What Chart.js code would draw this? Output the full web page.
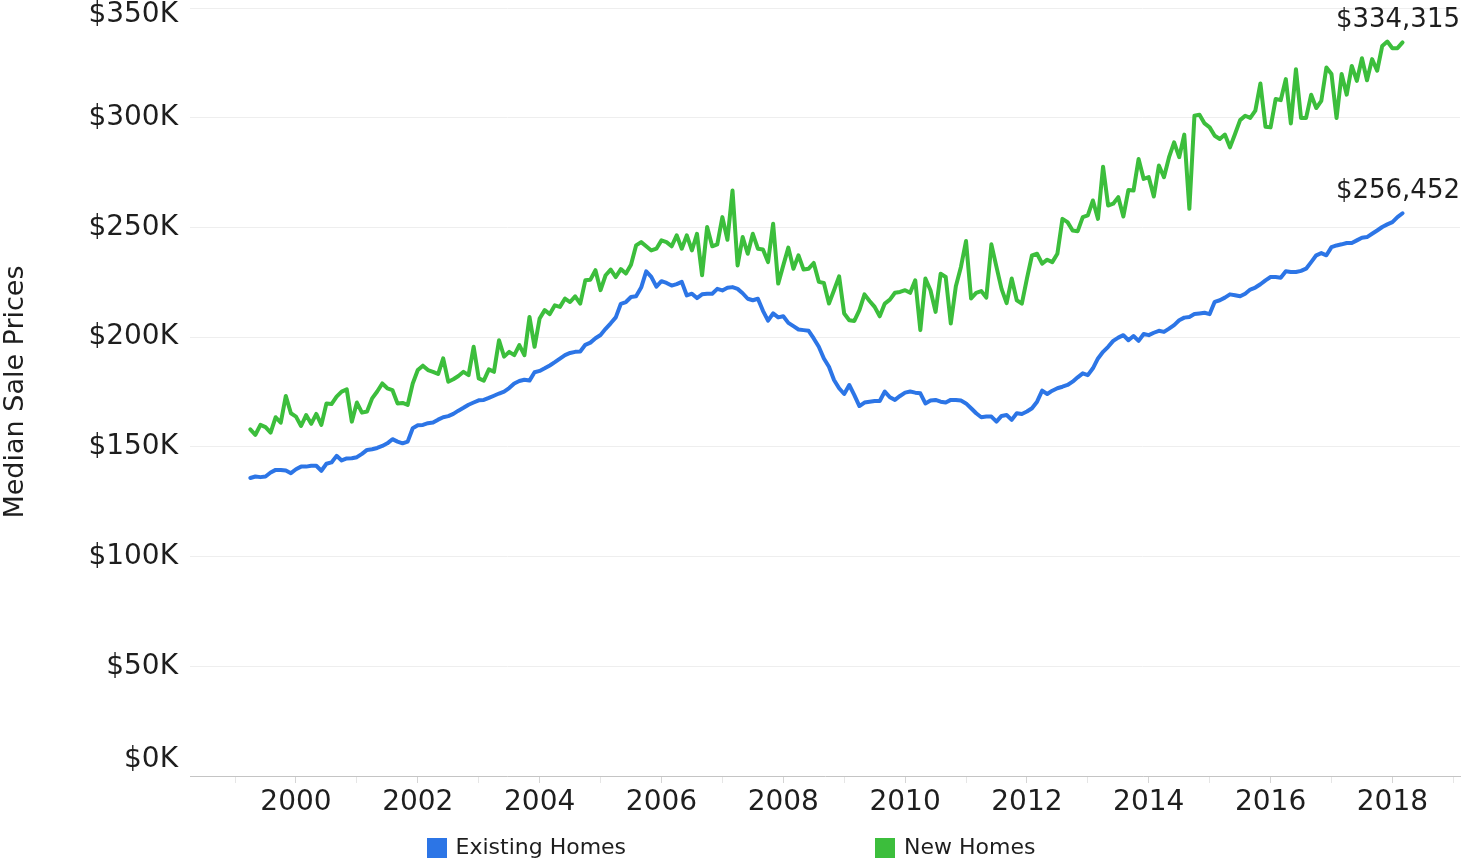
<!DOCTYPE html>
<html>
<head>
<meta charset="utf-8">
<title>Median Sale Prices</title>
<script src="https://cdn.jsdelivr.net/npm/chart.js@4.4.1/dist/chart.umd.min.js"></script>
<style>
  html, body { margin: 0; padding: 0; background: #fff; }
  #wrap { width: 1462px; height: 859px; position: relative; }
</style>
</head>
<body>
<div id="wrap"><canvas id="priceChart"></canvas></div>
<script>
// monthly median sale prices, April 1999 .. March 2018 (dollars)
const START_YEAR = 1999;
const START_MONTH = 4;

const existingHomes = [
  135800, 136500, 136200, 136500, 138300, 139500, 139500, 139200, 138000, 139800,
  141000, 141000, 141400, 141400, 139100, 142300, 142900, 145900, 143800, 144700,
  144800, 145300, 146800, 148600, 148900, 149500, 150400, 151600, 153500, 152400,
  151600, 152400, 158500, 159800, 160000, 160800, 161100, 162400, 163500, 164000,
  165000, 166500, 167800, 169200, 170200, 171200, 171400, 172300, 173300, 174300,
  175200, 176800, 178900, 180000, 180600, 180200, 184000, 184600, 185800, 187100,
  188600, 190200, 191800, 192800, 193300, 193500, 196500, 197500, 199500, 201000,
  203800, 206300, 209000, 215200, 216000, 218300, 218600, 222600, 230000, 227500,
  223000, 225500, 224700, 223500, 224200, 225200, 219000, 219800, 217800, 219500,
  219800, 219800, 222000, 221300, 222500, 222800, 222000, 220000, 217500, 216800,
  217500, 212000, 207500, 210800, 209000, 209500, 206500, 205000, 203500, 203200,
  202900, 199400, 195600, 190300, 186500, 180500, 176700, 174100, 178200, 173600,
  168600, 170200, 170600, 170900, 170900, 175200, 172600, 171400, 173200, 174700,
  175200, 174700, 174400, 169800, 171100, 171400, 170600, 170200, 171400, 171400,
  171100, 169800, 167600, 165300, 163500, 163800, 163800, 161500, 164100, 164500,
  162300, 165300, 165000, 166100, 167600, 170600, 175600, 174100, 175600, 176700,
  177400, 178200, 179700, 181700, 183500, 182700, 185800, 190300, 193300, 195600,
  198300, 199800, 200900, 198600, 200500, 198300, 201400, 200900, 202000, 202900,
  202400, 203900, 205500, 207700, 208900, 209200, 210500, 210800, 211100, 210500,
  216100, 216800, 218000, 219500, 219100, 218600, 219800, 221700, 222600, 224100,
  225900, 227400, 227400, 227100, 230000, 229700, 229700, 230200, 231200, 234200,
  237300, 238300, 237300, 241000, 241800, 242300, 242900, 242900, 244100, 245300,
  245600, 247100, 248600, 250200, 251400, 252400, 254700, 256452
];

const newHomes = [
  158000, 155500, 160000, 159000, 156500, 163500, 161000, 173200, 165300, 163800,
  159500, 164500, 160500, 165000, 160000, 169800, 169500, 172900, 175200, 176200,
  161500, 170200, 165600, 166100, 172100, 175200, 178900, 176700, 175900, 169800,
  170000, 169100, 178900, 185000, 187000, 185000, 184200, 183200, 190300, 179700,
  180800, 182300, 184200, 182700, 195600, 181200, 180200, 185300, 184200, 198600,
  191100, 193300, 191800, 196400, 191800, 209200, 195600, 208500, 212300, 210500,
  214500, 213800, 217600, 216000, 218600, 215300, 225900, 226200, 230500, 221400,
  228200, 230800, 227400, 231000, 229000, 233000, 241800, 243300, 241400, 239500,
  240300, 244100, 243300, 241400, 246400, 240300, 246400, 239500, 247100, 228200,
  250200, 241400, 242300, 254700, 244400, 266800, 232700, 245600, 238000, 247100,
  240300, 239900, 234200, 251700, 224400, 232700, 240800, 231200, 237300, 230800,
  231200, 233800, 225200, 224700, 215300, 221400, 227700, 210800, 207700, 207400,
  212300, 219500, 216500, 213800, 209500, 215300, 217100, 220200, 220600, 221400,
  220200, 225900, 203200, 226700, 221400, 211500, 228900, 227400, 206200, 223200,
  232000, 243800, 217600, 220200, 221000, 218000, 242300, 232000, 222000, 215500,
  226700, 216800, 215300, 226700, 237300, 238000, 233500, 235300, 234200, 238000,
  253900, 252400, 248600, 248300, 254700, 255500, 262300, 253900, 277700, 260000,
  260800, 263800, 255000, 267100, 266800, 281200, 272100, 272900, 264100, 278200,
  272900, 282000, 288800, 282000, 292300, 258500, 300900, 301400, 297400, 295600,
  291800, 290300, 292300, 286500, 292600, 298900, 300900, 299900, 303200, 315600,
  295900, 295600, 308500, 308000, 317600, 297400, 322100, 299900, 299900, 310500,
  304400, 307700, 322900, 319900, 299900, 319900, 310500, 323600, 316800, 327100,
  317100, 326700, 321400, 332700, 334700, 331700, 331700, 334315
];

const seriesNames = ['Existing Homes', 'New Homes'];
const seriesColors = ['#2c75e6', '#3cbe3c'];
const yTickStep = 50000;
const yMax = 350000;
const labeledYears = [2000, 2002, 2004, 2006, 2008, 2010, 2012, 2014, 2016, 2018];

const FONT = "'DejaVu Sans', sans-serif";
const TEXT = '#1e1e1e';

// 'YYYY-MM' for every month in the series
const months = existingHomes.map((_, i) => {
  const m = START_MONTH - 1 + i;
  const yr = START_YEAR + Math.floor(m / 12);
  return yr + '-' + String(m % 12 + 1).padStart(2, '0');
});

function monthToYear(label) {
  const [yr, mo] = label.split('-').map(Number);
  return yr + (mo - 1) / 12;
}

function toPoints(values) {
  return values.map((v, i) => ({ x: monthToYear(months[i]), y: v }));
}

function formatK(v) {
  return '$' + (v / 1000) + 'K';
}

// y tick labels, end-of-line values and the legend are painted here
const chartText = {
  id: 'chartText',
  afterDraw(chart) {
    const { ctx, chartArea, scales: { y } } = chart;
    ctx.save();
    ctx.fillStyle = TEXT;
    ctx.textBaseline = 'middle';

    ctx.font = '28px ' + FONT;
    ctx.textAlign = 'right';
    y.ticks.forEach(t => {
      let py = y.getPixelForValue(t.value);
      py = Math.min(Math.max(py, 15), chartArea.bottom - 16);
      ctx.fillText(formatK(t.value), chartArea.left - 12, py);
    });

    ctx.font = '26px ' + FONT;
    chart.data.datasets.forEach(ds => {
      const last = ds.data[ds.data.length - 1];
      const py = y.getPixelForValue(last.y);
      ctx.fillText('$' + last.y.toLocaleString('en-US'), chartArea.right, py - 22);
    });

    // legend: two swatches centred under the plot
    ctx.font = '22px ' + FONT;
    ctx.textAlign = 'left';
    const box = 20, textGap = 9, itemGap = 249;
    const widths = seriesNames.map(n => box + textGap + ctx.measureText(n).width);
    const total = widths[0] + itemGap + widths[1];
    let lx = (chart.width - total) / 2;
    const cy = chart.height - 11;
    seriesNames.forEach((name, i) => {
      ctx.fillStyle = seriesColors[i];
      ctx.fillRect(Math.round(lx), cy - box / 2, box, box);
      ctx.fillStyle = TEXT;
      ctx.fillText(name, lx + box + textGap, cy);
      lx += widths[i] + itemGap;
    });
    ctx.restore();
  }
};

function lineDataset(i, values) {
  return {
    label: seriesNames[i],
    data: toPoints(values),
    borderColor: seriesColors[i],
    backgroundColor: seriesColors[i],
    borderWidth: 4,
    pointRadius: 0,
    borderJoinStyle: 'round',
    borderCapStyle: 'round',
    fill: false
  };
}

new Chart(document.getElementById('priceChart'), {
  type: 'line',
  data: {
    datasets: [lineDataset(0, existingHomes), lineDataset(1, newHomes)]
  },
  options: {
    responsive: true,
    maintainAspectRatio: false,
    animation: false,
    layout: { padding: { top: 8, right: 2, left: 0, bottom: 0 } },
    plugins: {
      legend: { display: false },
      tooltip: { enabled: false }
    },
    scales: {
      x: {
        type: 'linear',
        min: 1998.26,
        max: 2019.11,
        ticks: {
          stepSize: 1,
          includeBounds: false,
          autoSkip: false,
          maxRotation: 0,
          padding: 3,
          color: TEXT,
          font: { family: FONT, size: 28 },
          callback: value => labeledYears.includes(value) ? String(value) : ''
        },
        grid: {
          drawOnChartArea: false,
          drawTicks: true,
          tickLength: 7,
          tickColor: ctx => labeledYears.includes(ctx.tick && ctx.tick.value) ? '#d4d4d4' : '#e6e6e6'
        },
        border: { display: true, color: '#c4c4c4', dash: [2, 3], width: 1 },
        afterFit: scale => {
          scale.height = 83;
          scale.paddingLeft = 0;
          scale.paddingRight = 0;
        }
      },
      y: {
        min: 0,
        max: yMax,
        ticks: { stepSize: yTickStep, display: false },
        grid: {
          drawTicks: false,
          color: ctx => ctx.tick && ctx.tick.value === 0 ? 'rgba(0,0,0,0)' : '#eeeeee'
        },
        border: { display: false },
        title: {
          display: true,
          text: 'Median Sale Prices',
          color: TEXT,
          font: { family: FONT, size: 27 },
          padding: { top: 0, bottom: 0 }
        },
        afterFit: scale => {
          scale.width = 190;
          scale.paddingTop = 0;
          scale.paddingBottom = 0;
        }
      }
    }
  },
  plugins: [chartText]
});
</script>
</body>
</html>
